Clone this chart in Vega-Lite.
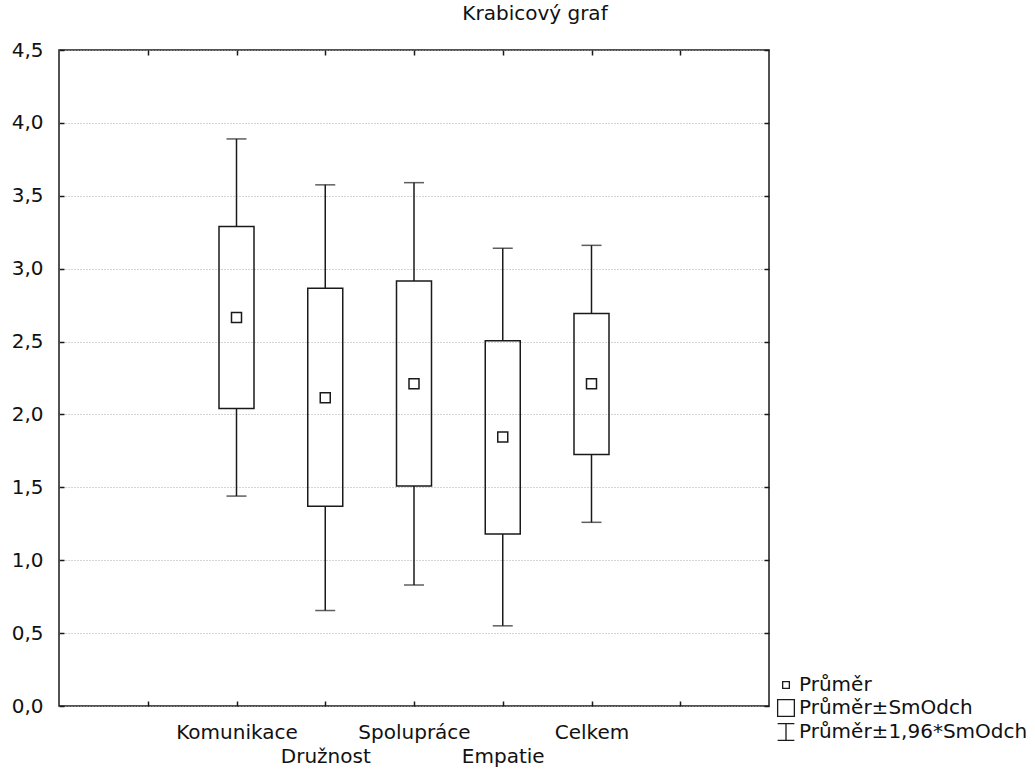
{
  "$schema": "https://vega.github.io/schema/vega-lite/v6.json",
  "autosize": "none",
  "width": 710,
  "height": 656,
  "padding": {"left": 59, "top": 50, "right": 266, "bottom": 63},
  "background": "white",
  "title": {
    "text": "Krabicový graf",
    "font": "DejaVu Sans",
    "fontSize": 20,
    "fontWeight": "normal",
    "color": "#111",
    "anchor": "middle",
    "frame": "group",
    "dx": 121,
    "offset": 16
  },
  "config": {
    "font": "DejaVu Sans",
    "view": {"stroke": "#1a1a1a", "strokeWidth": 1.5},
    "axis": {
      "domain": false,
      "tickColor": "#1a1a1a",
      "tickWidth": 1.5,
      "labelFont": "DejaVu Sans",
      "labelFontSize": 20,
      "labelColor": "#111",
      "title": null
    }
  },
  "data": {
    "values": [
      {"kat": "Komunikace", "prumer": 2.665, "boxLow": 2.04, "boxHigh": 3.29, "whiskLow": 1.44, "whiskHigh": 3.89},
      {"kat": "Družnost", "prumer": 2.115, "boxLow": 1.37, "boxHigh": 2.865, "whiskLow": 0.655, "whiskHigh": 3.575},
      {"kat": "Spolupráce", "prumer": 2.21, "boxLow": 1.51, "boxHigh": 2.915, "whiskLow": 0.83, "whiskHigh": 3.59},
      {"kat": "Empatie", "prumer": 1.845, "boxLow": 1.18, "boxHigh": 2.505, "whiskLow": 0.55, "whiskHigh": 3.14},
      {"kat": "Celkem", "prumer": 2.21, "boxLow": 1.726, "boxHigh": 2.693, "whiskLow": 1.26, "whiskHigh": 3.16}
    ]
  },
  "resolve": {"axis": {"x": "independent", "y": "independent"}},
  "layer": [
    {
      "mark": {"type": "rule", "color": "#1a1a1a", "strokeWidth": 1.5},
      "encoding": {
        "x": {
          "field": "kat", "type": "nominal",
          "scale": {"type": "point", "padding": 1, "domain": ["L", "Komunikace", "Družnost", "Spolupráce", "Empatie", "Celkem", "R"]},
          "axis": {"orient": "top", "labels": false, "grid": false, "tickSize": -5}
        },
        "y": {
          "field": "whiskLow", "type": "quantitative",
          "scale": {"domain": [0, 4.5], "nice": false, "zero": true},
          "axis": {"orient": "right", "labels": false, "grid": false, "tickSize": -5, "values": [0, 0.5, 1, 1.5, 2, 2.5, 3, 3.5, 4, 4.5]}
        },
        "y2": {"field": "boxLow"}
      }
    },
    {
      "mark": {"type": "rule", "color": "#1a1a1a", "strokeWidth": 1.5},
      "encoding": {
        "x": {"field": "kat", "type": "nominal", "axis": null},
        "y": {"field": "boxHigh", "type": "quantitative", "axis": null},
        "y2": {"field": "whiskHigh"}
      }
    },
    {
      "mark": {"type": "tick", "orient": "horizontal", "color": "#1a1a1a", "size": 20, "thickness": 1.5},
      "encoding": {
        "x": {"field": "kat", "type": "nominal", "axis": null},
        "y": {"field": "whiskLow", "type": "quantitative", "axis": null}
      }
    },
    {
      "mark": {"type": "tick", "orient": "horizontal", "color": "#1a1a1a", "size": 20, "thickness": 1.5},
      "encoding": {
        "x": {"field": "kat", "type": "nominal", "axis": null},
        "y": {"field": "whiskHigh", "type": "quantitative", "axis": null}
      }
    },
    {
      "mark": {"type": "bar", "fill": "transparent", "stroke": "#1a1a1a", "strokeWidth": 1.5, "size": 35},
      "encoding": {
        "x": {"field": "kat", "type": "nominal", "axis": null},
        "y": {"field": "boxLow", "type": "quantitative", "axis": null},
        "y2": {"field": "boxHigh"}
      }
    },
    {
      "mark": {"type": "point", "filled": false, "color": "#1a1a1a", "strokeWidth": 1.5, "size": 625, "opacity": 1},
      "encoding": {
        "x": {
          "field": "kat", "type": "nominal",
          "axis": {
            "orient": "bottom",
            "grid": false,
            "tickSize": -5,
            "labelPadding": 21,
            "labelAngle": 0,
            "labelBaseline": "top",
            "labelLineHeight": 24,
            "labelExpr": "datum.label == 'L' || datum.label == 'R' ? '' : (datum.label == 'Družnost' || datum.label == 'Empatie' ? ['', datum.label] : datum.label)"
          }
        },
        "y": {
          "field": "prumer", "type": "quantitative",
          "axis": {
            "orient": "left",
            "grid": true,
            "gridColor": "#a8a8a8",
            "gridDash": [1, 2],
            "gridWidth": 1,
            "tickSize": -5,
            "labelPadding": 21,
            "values": [0, 0.5, 1, 1.5, 2, 2.5, 3, 3.5, 4, 4.5],
            "labelExpr": "replace(format(datum.value, '.1f'), '.', ',')"
          }
        },
        "shape": {
          "datum": "Průměr",
          "scale": {
            "domain": ["Průměr", "Průměr±SmOdch", "Průměr±1,96*SmOdch"],
            "range": ["M-0.4,-0.4H0.4V0.4H-0.4Z", "M-1,-1H1V1H-1Z", "M-1,-1H1M0,-1V1M-1,1H1"]
          },
          "legend": {
            "title": null,
            "orient": "none",
            "legendX": 717,
            "legendY": 625,
            "labelFont": "DejaVu Sans",
            "labelFontSize": 20,
            "labelColor": "#111",
            "labelOffset": 3,
            "labelLimit": 400,
            "symbolSize": 280,
            "symbolStrokeColor": "#1a1a1a",
            "symbolStrokeWidth": 1.3,
            "symbolFillColor": "transparent",
            "rowPadding": 2
          }
        }
      }
    }
  ]
}
